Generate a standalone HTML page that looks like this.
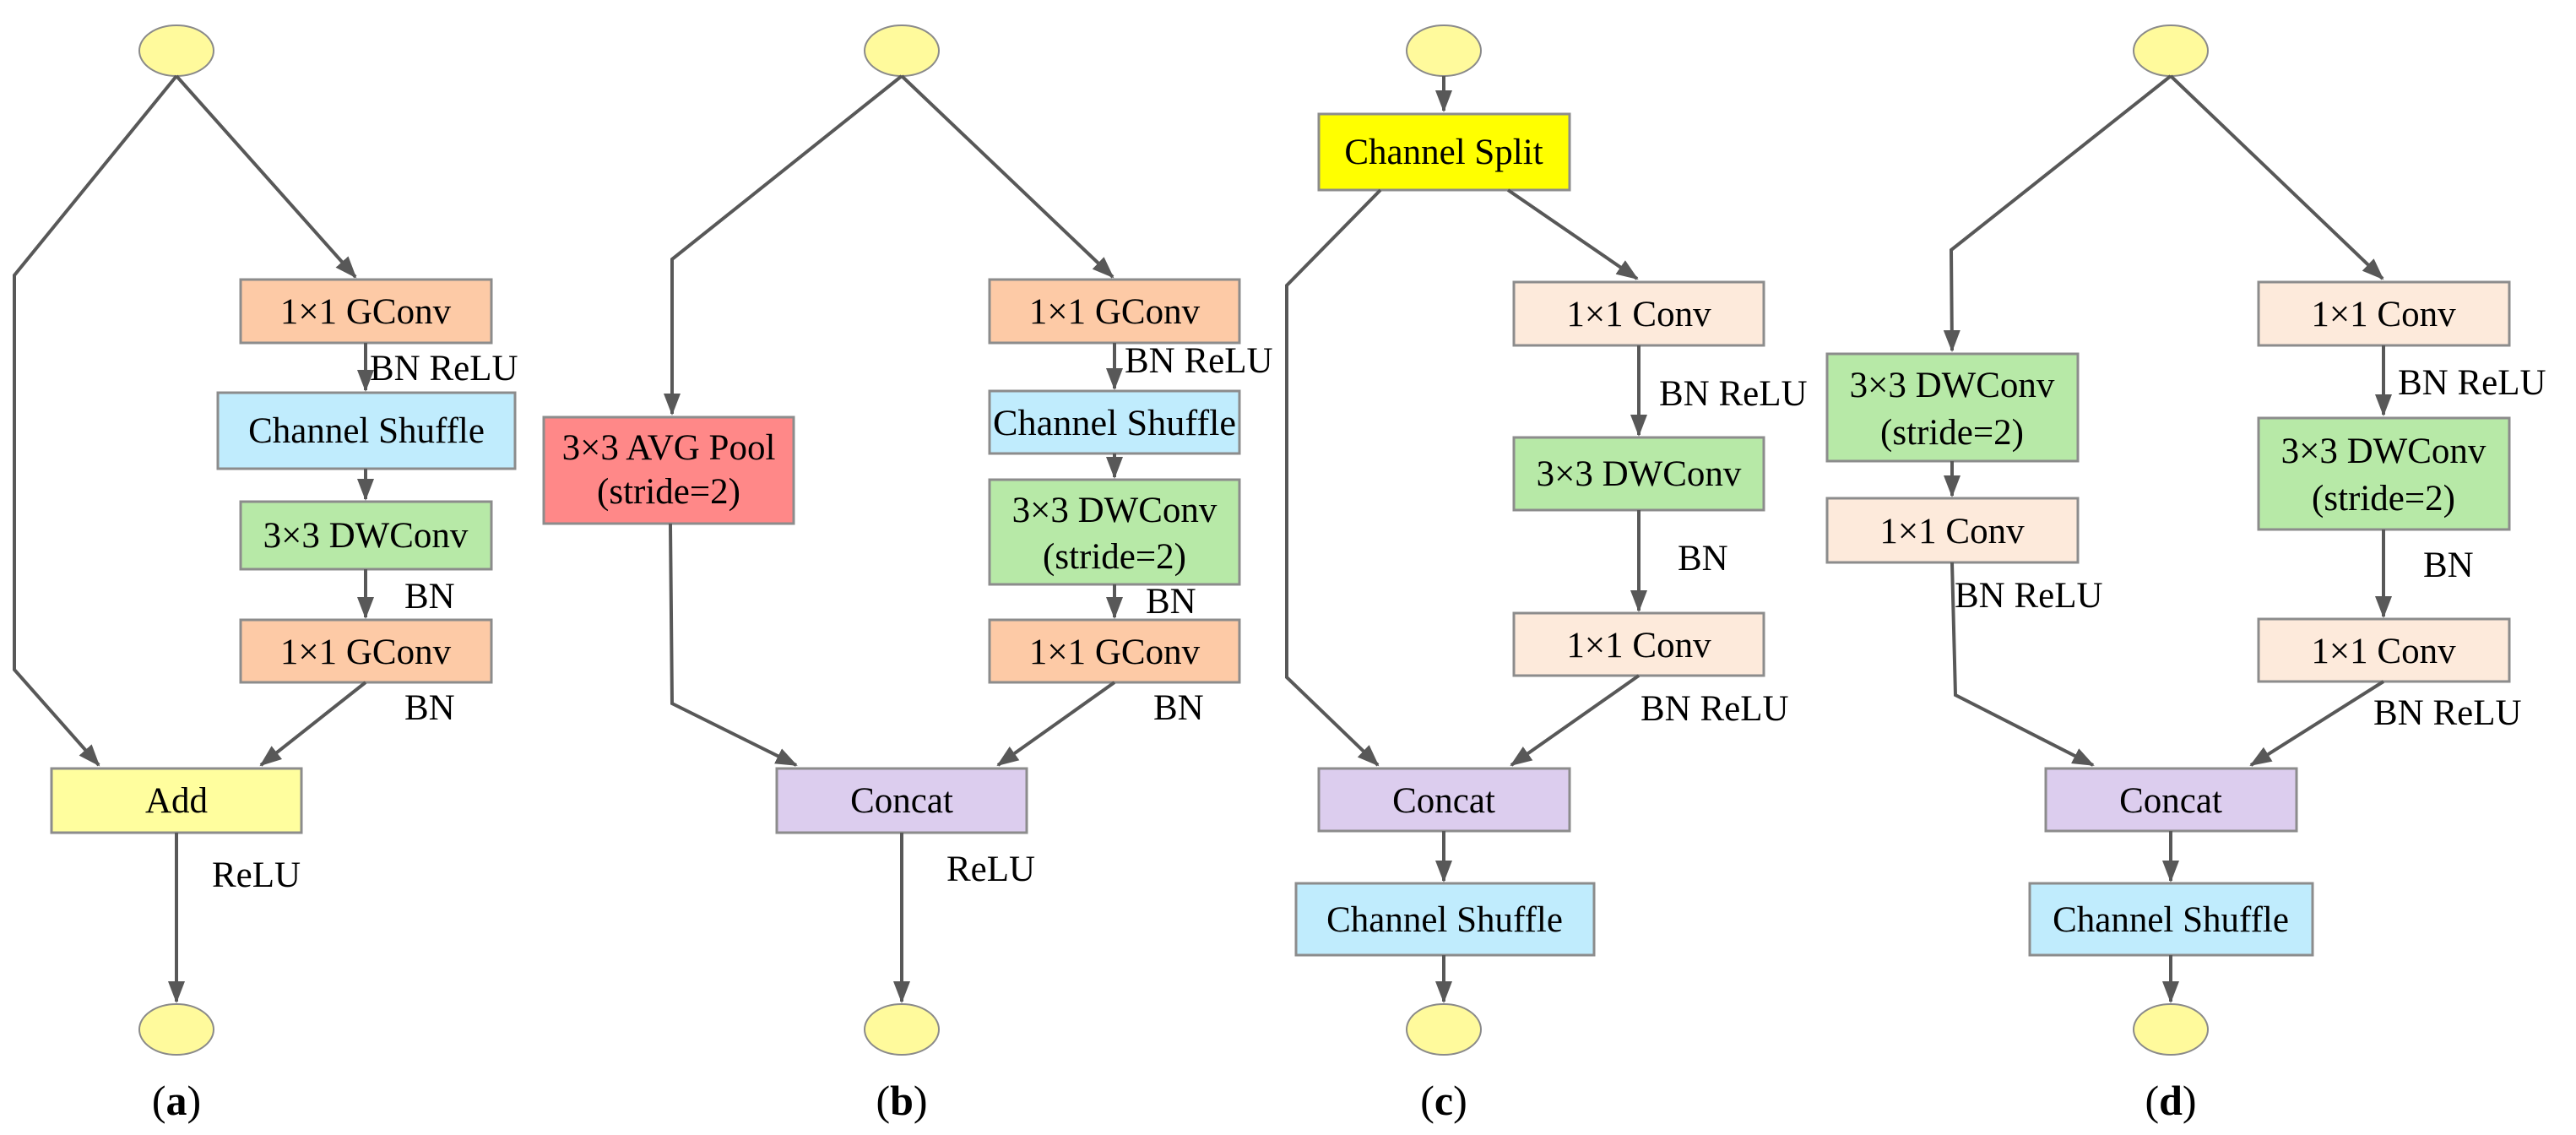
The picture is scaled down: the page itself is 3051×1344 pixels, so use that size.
<!DOCTYPE html>
<html><head><meta charset="utf-8">
<style>
html,body{margin:0;padding:0;background:#fff;}
svg{display:block;}
text{font-family:"Liberation Serif","Times New Roman",serif;fill:#000;}
.b{font-size:43px;text-anchor:middle;}
.l{font-size:43px;}
.p{font-size:50px;text-anchor:middle;}
.ln{stroke:#585858;stroke-width:4;fill:none;}
rect{stroke:#8c8c8c;stroke-width:3;}
ellipse{fill:#fffa9c;stroke:#8a8a8a;stroke-width:2;}
</style></head>
<body>
<svg width="3051" height="1344" viewBox="0 0 3051 1344" xmlns="http://www.w3.org/2000/svg" font-family="Liberation Serif, serif">
<defs>
<marker id="a" viewBox="0 0 26 20" refX="24" refY="10" markerWidth="26" markerHeight="20" markerUnits="userSpaceOnUse" orient="auto">
<path d="M0,0 L26,10 L0,20 Z" fill="#585858"/>
</marker>
</defs>

<!-- ===== Panel a ===== -->
<ellipse cx="209" cy="60" rx="44" ry="30"/>
<polyline class="ln" points="209,90 17,326 17,793 117,906" marker-end="url(#a)"/>
<polyline class="ln" points="209,90 421,328" marker-end="url(#a)"/>
<rect x="285" y="331" width="297" height="75" fill="#fdcaa6"/>
<text class="b" x="433" y="383">1×1 GConv</text>
<line class="ln" x1="433" y1="406" x2="433" y2="462" marker-end="url(#a)"/>
<text class="l" x="438" y="450">BN ReLU</text>
<rect x="258" y="465" width="352" height="90" fill="#c0ecfd"/>
<text class="b" x="434" y="524">Channel Shuffle</text>
<line class="ln" x1="433" y1="555" x2="433" y2="591" marker-end="url(#a)"/>
<rect x="285" y="594" width="297" height="80" fill="#b7e9a7"/>
<text class="b" x="433" y="648">3×3 DWConv</text>
<line class="ln" x1="433" y1="674" x2="433" y2="731" marker-end="url(#a)"/>
<text class="l" x="479" y="720">BN</text>
<rect x="285" y="734" width="297" height="74" fill="#fdcaa6"/>
<text class="b" x="433" y="786">1×1 GConv</text>
<polyline class="ln" points="433,808 309,906" marker-end="url(#a)"/>
<text class="l" x="479" y="852">BN</text>
<rect x="61" y="910" width="296" height="76" fill="#fffe9e"/>
<text class="b" x="209" y="962">Add</text>
<line class="ln" x1="209" y1="986" x2="209" y2="1186" marker-end="url(#a)"/>
<text class="l" x="251" y="1050">ReLU</text>
<ellipse cx="209" cy="1219" rx="44" ry="30"/>
<text class="p" x="209" y="1320">(<tspan font-weight="bold">a</tspan>)</text>

<!-- ===== Panel b ===== -->
<ellipse cx="1068" cy="60" rx="44" ry="30"/>
<polyline class="ln" points="1068,90 796,307 796,490" marker-end="url(#a)"/>
<polyline class="ln" points="1068,90 1318,328" marker-end="url(#a)"/>
<rect x="644" y="494" width="296" height="126" fill="#ff8888"/>
<text class="b" x="792" y="544">3×3 AVG Pool</text>
<text class="b" x="792" y="596">(stride=2)</text>
<polyline class="ln" points="794,620 796,833 943,906" marker-end="url(#a)"/>
<rect x="1172" y="331" width="296" height="75" fill="#fdcaa6"/>
<text class="b" x="1320" y="383">1×1 GConv</text>
<line class="ln" x1="1320" y1="406" x2="1320" y2="460" marker-end="url(#a)"/>
<text class="l" x="1332" y="441">BN ReLU</text>
<rect x="1172" y="463" width="296" height="74" fill="#c0ecfd"/>
<text class="b" x="1320" y="515" textLength="288" lengthAdjust="spacingAndGlyphs">Channel Shuffle</text>
<line class="ln" x1="1320" y1="537" x2="1320" y2="565" marker-end="url(#a)"/>
<rect x="1172" y="568" width="296" height="124" fill="#b7e9a7"/>
<text class="b" x="1320" y="618">3×3 DWConv</text>
<text class="b" x="1320" y="673">(stride=2)</text>
<line class="ln" x1="1320" y1="692" x2="1320" y2="731" marker-end="url(#a)"/>
<text class="l" x="1357" y="726">BN</text>
<rect x="1172" y="734" width="296" height="74" fill="#fdcaa6"/>
<text class="b" x="1320" y="786">1×1 GConv</text>
<polyline class="ln" points="1320,808 1182,906" marker-end="url(#a)"/>
<text class="l" x="1366" y="852">BN</text>
<rect x="920" y="910" width="296" height="76" fill="#dccdee"/>
<text class="b" x="1068" y="962">Concat</text>
<line class="ln" x1="1068" y1="986" x2="1068" y2="1186" marker-end="url(#a)"/>
<text class="l" x="1121" y="1043">ReLU</text>
<ellipse cx="1068" cy="1219" rx="44" ry="30"/>
<text class="p" x="1068" y="1320">(<tspan font-weight="bold">b</tspan>)</text>

<!-- ===== Panel c ===== -->
<ellipse cx="1710" cy="60" rx="44" ry="30"/>
<line class="ln" x1="1710" y1="90" x2="1710" y2="131" marker-end="url(#a)"/>
<rect x="1562" y="135" width="297" height="90" fill="#ffff00"/>
<text class="b" x="1710" y="194">Channel Split</text>
<polyline class="ln" points="1635,225 1524,338 1524,802 1632,906" marker-end="url(#a)"/>
<polyline class="ln" points="1786,225 1939,330" marker-end="url(#a)"/>
<rect x="1793" y="334" width="296" height="75" fill="#fdeadb"/>
<text class="b" x="1941" y="386">1×1 Conv</text>
<line class="ln" x1="1941" y1="409" x2="1941" y2="515" marker-end="url(#a)"/>
<text class="l" x="1965" y="480">BN ReLU</text>
<rect x="1793" y="518" width="296" height="86" fill="#b7e9a7"/>
<text class="b" x="1941" y="575">3×3 DWConv</text>
<line class="ln" x1="1941" y1="604" x2="1941" y2="723" marker-end="url(#a)"/>
<text class="l" x="1987" y="675">BN</text>
<rect x="1793" y="726" width="296" height="74" fill="#fdeadb"/>
<text class="b" x="1941" y="778">1×1 Conv</text>
<polyline class="ln" points="1941,800 1790,906" marker-end="url(#a)"/>
<text class="l" x="1943" y="853">BN ReLU</text>
<rect x="1562" y="910" width="297" height="74" fill="#dccdee"/>
<text class="b" x="1710" y="962">Concat</text>
<line class="ln" x1="1710" y1="984" x2="1710" y2="1043" marker-end="url(#a)"/>
<rect x="1535" y="1046" width="353" height="85" fill="#c0ecfd"/>
<text class="b" x="1711" y="1103">Channel Shuffle</text>
<line class="ln" x1="1710" y1="1131" x2="1710" y2="1186" marker-end="url(#a)"/>
<ellipse cx="1710" cy="1219" rx="44" ry="30"/>
<text class="p" x="1710" y="1320">(<tspan font-weight="bold">c</tspan>)</text>

<!-- ===== Panel d ===== -->
<ellipse cx="2571" cy="60" rx="44" ry="30"/>
<polyline class="ln" points="2571,90 2311,296 2312,415" marker-end="url(#a)"/>
<polyline class="ln" points="2571,90 2822,330" marker-end="url(#a)"/>
<rect x="2164" y="419" width="297" height="127" fill="#b7e9a7"/>
<text class="b" x="2312" y="470">3×3 DWConv</text>
<text class="b" x="2312" y="526">(stride=2)</text>
<line class="ln" x1="2312" y1="546" x2="2312" y2="587" marker-end="url(#a)"/>
<rect x="2164" y="590" width="297" height="76" fill="#fdeadb"/>
<text class="b" x="2312" y="643">1×1 Conv</text>
<polyline class="ln" points="2312,666 2316,823 2479,906" marker-end="url(#a)"/>
<text class="l" x="2315" y="719">BN ReLU</text>
<rect x="2675" y="334" width="297" height="75" fill="#fdeadb"/>
<text class="b" x="2823" y="386">1×1 Conv</text>
<line class="ln" x1="2823" y1="409" x2="2823" y2="491" marker-end="url(#a)"/>
<text class="l" x="2840" y="467">BN ReLU</text>
<rect x="2675" y="495" width="297" height="132" fill="#b7e9a7"/>
<text class="b" x="2823" y="548">3×3 DWConv</text>
<text class="b" x="2823" y="604">(stride=2)</text>
<line class="ln" x1="2823" y1="627" x2="2823" y2="730" marker-end="url(#a)"/>
<text class="l" x="2870" y="683">BN</text>
<rect x="2675" y="733" width="297" height="74" fill="#fdeadb"/>
<text class="b" x="2823" y="785">1×1 Conv</text>
<polyline class="ln" points="2823,807 2666,906" marker-end="url(#a)"/>
<text class="l" x="2811" y="858">BN ReLU</text>
<rect x="2423" y="910" width="297" height="74" fill="#dccdee"/>
<text class="b" x="2571" y="962">Concat</text>
<line class="ln" x1="2571" y1="984" x2="2571" y2="1043" marker-end="url(#a)"/>
<rect x="2404" y="1046" width="335" height="85" fill="#c0ecfd"/>
<text class="b" x="2571" y="1103">Channel Shuffle</text>
<line class="ln" x1="2571" y1="1131" x2="2571" y2="1186" marker-end="url(#a)"/>
<ellipse cx="2571" cy="1219" rx="44" ry="30"/>
<text class="p" x="2571" y="1320">(<tspan font-weight="bold">d</tspan>)</text>
</svg>
</body></html>
